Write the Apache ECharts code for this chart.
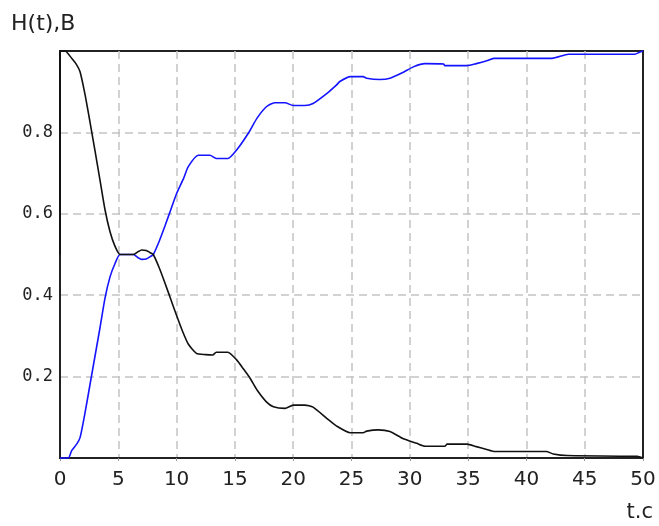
<!DOCTYPE html>
<html>
<head>
<meta charset="utf-8">
<script src="https://cdn.jsdelivr.net/npm/echarts@6/dist/echarts.min.js"></script>
<style>html,body{margin:0;padding:0;background:#fff;}#c{width:659px;height:526px;}</style>
</head>
<body>
<div id="c"></div>
<script>
// H(t) (black) — time points and values
const hT = [0, 0, 0.43, 1.0, 1.43, 1.72, 2.14, 2.57, 3.0, 3.43, 3.86, 4.29, 4.72, 5.15, 6.3, 6.7, 7.0, 7.4, 7.7, 8.0, 8.5, 9.0, 9.5, 10.0, 10.5, 11.0, 11.7, 12.5, 13.1, 13.4, 14.4, 15.15, 15.7, 16.3, 16.9, 17.7, 18.3, 19.3, 20.0, 21.0, 21.7, 22.9, 23.7, 24.9, 26.0, 26.3, 27.3, 28.3, 29.4, 30.6, 31.3, 33.0, 33.2, 34.9, 35.7, 36.6, 37.2, 41.7, 42.3, 43.5, 49.5, 50];
const hV = [0.5, 1.0, 1.0, 0.982, 0.966, 0.949, 0.894, 0.826, 0.755, 0.683, 0.61, 0.556, 0.52, 0.5, 0.5, 0.507, 0.511, 0.51, 0.505, 0.5, 0.468, 0.43, 0.39, 0.35, 0.312, 0.28, 0.257, 0.254, 0.253, 0.26, 0.26, 0.241, 0.22, 0.196, 0.167, 0.138, 0.126, 0.122, 0.13, 0.13, 0.125, 0.097, 0.079, 0.062, 0.062, 0.066, 0.069, 0.065, 0.048, 0.036, 0.029, 0.029, 0.034, 0.034, 0.028, 0.021, 0.016, 0.016, 0.01, 0.006, 0.004, 0.0];
// B (blue)
const bT = [0, 0.71, 1.0, 1.43, 1.72, 2.14, 2.57, 3.0, 3.43, 3.86, 4.29, 4.72, 5.15, 6.3, 6.7, 7.0, 7.4, 7.7, 8.0, 8.5, 9.0, 9.5, 10.0, 10.6, 11.0, 11.86, 12.86, 13.4, 14.4, 15.15, 16.15, 16.9, 17.7, 18.4, 19.3, 20.0, 21.0, 21.7, 22.9, 23.7, 24.0, 24.9, 26.0, 26.3, 27.4, 28.3, 29.4, 30.3, 31.3, 32.9, 33.0, 34.9, 35.7, 36.6, 37.2, 42.2, 43.6, 49.3, 49.7, 50];
const bV = [0.0, 0.0, 0.018, 0.034, 0.05, 0.11, 0.18, 0.25, 0.32, 0.393, 0.445, 0.478, 0.5, 0.5, 0.492, 0.488, 0.489, 0.494, 0.5, 0.532, 0.57, 0.61, 0.65, 0.687, 0.716, 0.744, 0.744, 0.736, 0.736, 0.757, 0.798, 0.835, 0.863, 0.873, 0.873, 0.866, 0.866, 0.871, 0.896, 0.916, 0.925, 0.937, 0.937, 0.933, 0.93, 0.933, 0.947, 0.961, 0.969, 0.968, 0.964, 0.964, 0.969, 0.976, 0.982, 0.982, 0.992, 0.992, 0.997, 1.0];
const xTicks = [0, 5, 10, 15, 20, 25, 30, 35, 40, 45, 50];
const yTicks = [0.2, 0.4, 0.6, 0.8];
const yLabel = 'H(t),B';
const xLabel = 't.c';

const chart = echarts.init(document.getElementById('c'), null, {renderer: 'canvas'});
const grid = {color: '#c4c4c4', width: 1.5, type: [8, 5]};
chart.setOption({
  animation: false,
  backgroundColor: '#fff',
  grid: {left: 60, right: 16, top: 51, bottom: 68, show: true, borderColor: '#222', borderWidth: 2, backgroundColor: 'transparent'},
  graphic: [
    {type: 'text', left: 11, top: 13, style: {text: yLabel, font: '22px "DejaVu Sans"', fill: '#222'}},
    {type: 'text', right: 6, top: 502, style: {text: xLabel, font: '21px "DejaVu Sans"', fill: '#222'}}
  ],
  xAxis: {
    type: 'value', min: 0, max: 50, interval: 5,
    axisLine: {show: true, lineStyle: {color: '#222', width: 2}},
    axisTick: {show: true, length: 3, lineStyle: {color: '#999'}},
    axisLabel: {margin: 12, fontFamily: 'DejaVu Sans', fontSize: 20, color: '#222',
      formatter: v => xTicks.includes(v) ? String(v) : ''},
    splitLine: {show: true, showMinLine: false, showMaxLine: false, lineStyle: grid}
  },
  yAxis: {
    type: 'value', min: 0, max: 1, interval: 0.2,
    axisLine: {show: true, lineStyle: {color: '#222', width: 2}},
    axisTick: {show: false},
    axisLabel: {margin: 7, fontFamily: 'DejaVu Sans Mono', fontSize: 17, color: '#222',
      formatter: v => { const r = Math.round(v * 10) / 10; return yTicks.some(t => Math.abs(t - r) < 1e-9) ? r.toFixed(1) : ''; }},
    splitLine: {show: true, showMinLine: false, showMaxLine: false, lineStyle: grid}
  },
  series: [
    {type: 'line', name: 'B', data: bT.map((t, i) => [t, bV[i]]), showSymbol: false, smooth: 0.2,
      lineStyle: {color: '#1414ff', width: 1.6}, clip: false, z: 3},
    {type: 'line', name: 'H', data: hT.map((t, i) => [t, hV[i]]), showSymbol: false, smooth: 0.2,
      lineStyle: {color: '#111', width: 1.6}, clip: false, z: 4}
  ]
});
</script>
</body>
</html>
